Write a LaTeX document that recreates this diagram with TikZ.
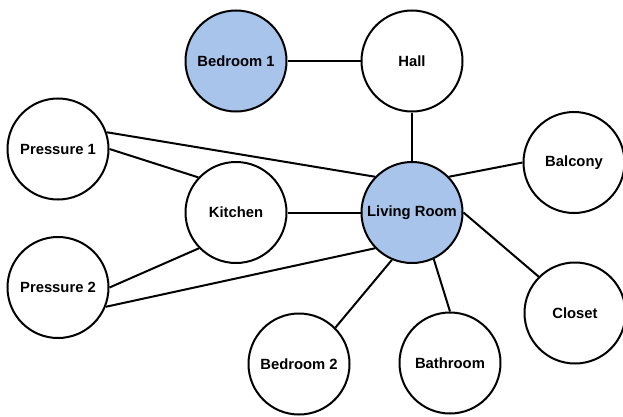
\documentclass[tikz,border=0pt]{standalone}
\usepackage{fontspec}
\setmainfont{Liberation Sans}
\definecolor{roomblue}{HTML}{A9C4EB}
\begin{document}
\begin{tikzpicture}[x=1bp,y=1bp,
  room/.style={circle,draw=black,line width=2bp,fill=white,minimum size=101bp,inner sep=0pt,
    font=\fontsize{14.8bp}{17bp}\selectfont\bfseries},
  hub/.style={room,fill=roomblue},
  link/.style={draw=black,line width=2bp}]
\useasboundingbox (0,0) rectangle (623,416);
\node[hub]  (bed1)    at (236,355) {Bedroom 1};
\node[room] (hall)    at (412,355) {Hall};
\node[room] (p1)      at (58,267) {Pressure 1};
\node[room] (kitchen) at (236,203.5) {Kitchen};
\node[hub]  (living)  at (412,203.5) {Living Room};
\node[room] (balcony) at (574,253.5) {Balcony};
\node[room] (p2)      at (58,128.5) {Pressure 2};
\node[room] (closet)  at (575,103) {Closet};
\node[room] (bed2)    at (299,52) {Bedroom 2};
\node[room] (bath)    at (450,53) {Bathroom};
\path[link] (bed1.east) -- (hall.west);
\path[link] (hall.south) -- (living.north);
\path[link] (p1.19) -- (living.136.6);
\path[link] (p1.0) -- (kitchen.137);
\path[link] (kitchen.east) -- (living.west);
\path[link] (p2.0) -- (kitchen.224.6);
\path[link] (p2.-22.7) -- (living.224.6);
\path[link] (living.44.6) -- (balcony.west);
\path[link] (living.0) -- (closet.135);
\path[link] (living.247.6) -- (bed2.45.8);
\path[link] (living.295.3) -- (bath.north);
\end{tikzpicture}
\end{document}
